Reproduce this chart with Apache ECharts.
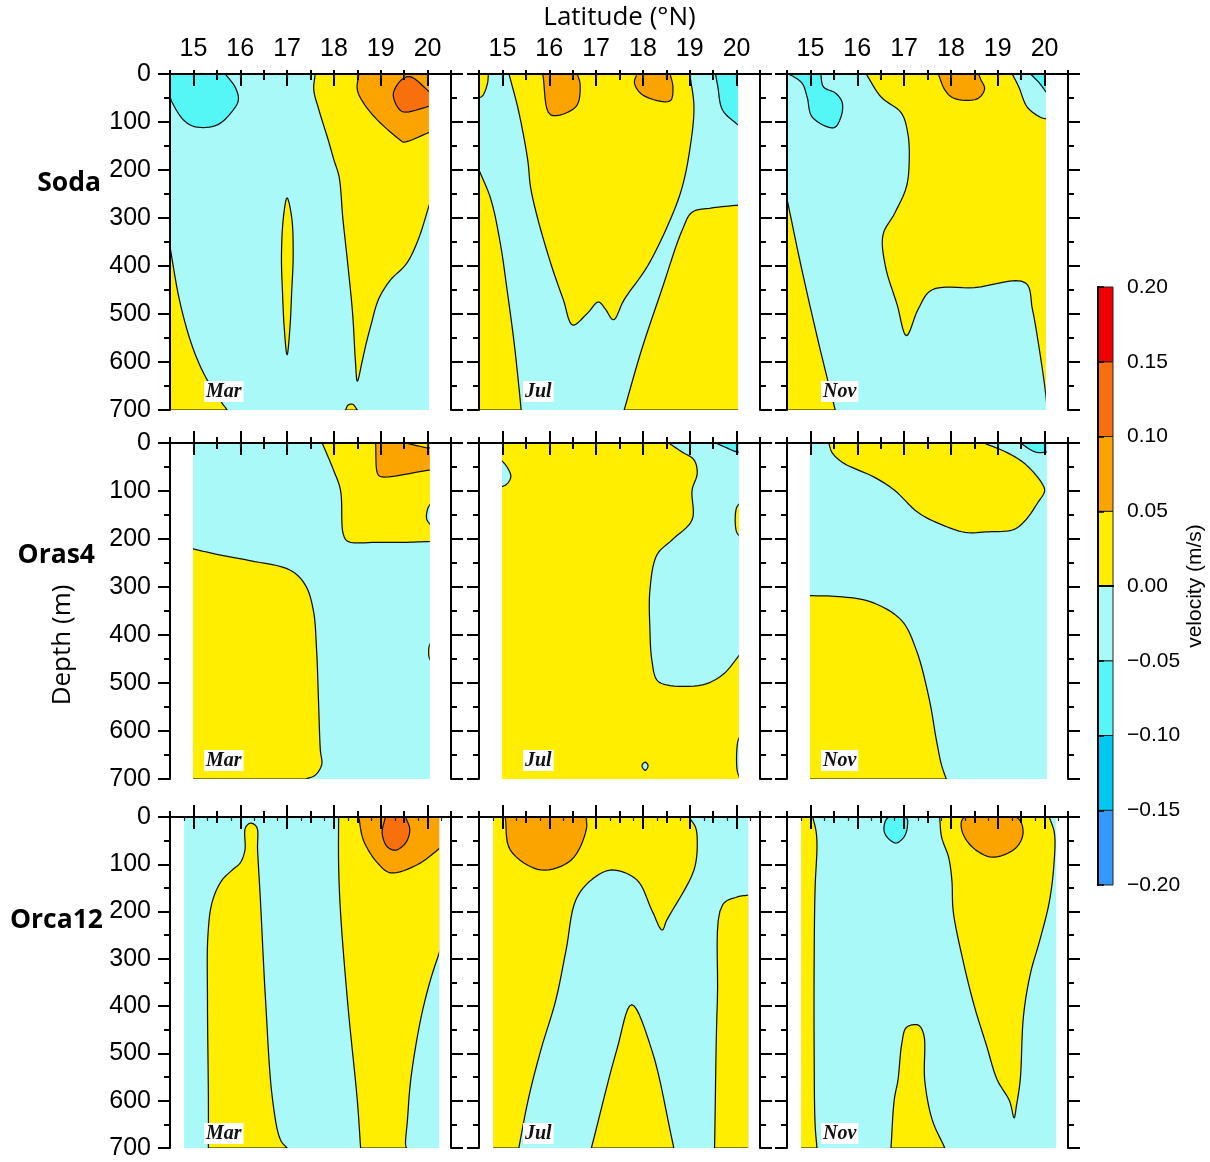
<!DOCTYPE html>
<html><head><meta charset="utf-8">
<script src="https://cdn.jsdelivr.net/npm/echarts@6.0.0/dist/echarts.min.js"></script>
<style>html,body{margin:0;padding:0;background:#fff}#c{width:1210px;height:1162px}</style>
</head><body><div id="c"></div>
<script>
// ---------------- DATA ----------------
const latTicks = [15, 16, 17, 18, 19, 20];
const depthTicks = [0, 100, 200, 300, 400, 500, 600, 700];
const levels = [-0.20, -0.15, -0.10, -0.05, 0.00, 0.05, 0.10, 0.15, 0.20];
const models = ['Soda', 'Oras4', 'Orca12'];
const months = ['Mar', 'Jul', 'Nov'];
// model grid-point markers along the surface
const soda_marks = [15, 15.5, 16, 16.5, 17, 17.5, 18, 18.5, 19, 19.5, 20];
const oras_marks = [15, 16, 17, 18, 19, 20];
const orca_marks = [14.8, 15.3, 15.8, 16.3, 16.8, 17.3, 17.8, 18.3, 18.8, 19.3, 19.8, 20.3];

// velocity classes (bin mid-values, m/s)
const V_C2 = -0.075, V_C1 = -0.025, V_Y = 0.025, V_O1 = 0.075, V_O2 = 0.125;

// contour polygons: [latitude °N, depth m]
const soda_extent = [14.5, 20.05];
const soda_mar_c2 = [[14.5,0],[15.68,0],[15.9,29],[15.96,54],[15.85,75],[15.51,106],[15.04,110],[14.79,96],[14.55,60],[14.5,48]];
const soda_mar_y1 = [[17.6,0],[20.05,0],[20.05,268],[19.8,345],[19.55,395],[19.2,430],[18.95,470],[18.8,520],[18.68,565],[18.6,600],[18.5,640],[18.46,600],[18.4,500],[18.3,400],[18.19,300],[18.11,214],[18.0,179],[17.88,138],[17.68,75],[17.57,33]];
const soda_mar_o1 = [[18.53,0],[20.05,0],[20.05,121],[19.49,142],[19.42,138],[18.93,96],[18.63,60],[18.5,33]];
const soda_mar_o2 = [[20.05,38],[19.64,6],[19.47,10],[19.27,40],[19.36,69],[19.49,79],[20.05,67]];
const soda_mar_y2 = [[17.0,258],[17.1,300],[17.13,380],[17.1,450],[17.06,530],[17.0,585],[16.94,530],[16.9,450],[16.88,380],[16.92,300]];
const soda_mar_y3 = [[14.5,360],[14.7,470],[14.95,560],[15.2,620],[15.5,670],[15.72,700],[14.5,700]];
const soda_mar_y4 = [[18.25,700],[18.3,690],[18.4,688],[18.5,700]];

const soda_jul_y1 = [[15.14,0],[19.0,0],[19.09,69],[19.0,158],[18.84,235],[18.6,300],[18.1,400],[17.6,470],[17.37,512],[17.2,490],[17.05,475],[16.8,500],[16.5,523],[16.3,470],[16.05,400],[15.75,300],[15.6,235],[15.54,179],[15.34,75]];
const soda_jul_o1 = [[15.86,0],[16.6,0],[16.66,23],[16.57,68],[16.03,85]];
const soda_jul_o2 = [[17.87,0],[18.58,0],[18.64,27],[18.58,56],[18.0,44],[17.82,19]];
const soda_jul_c2 = [[19.55,0],[20.05,0],[20.05,108],[19.7,75],[19.6,27]];
const soda_jul_y2 = [[14.5,0],[14.7,0],[14.68,20],[14.58,45],[14.5,50]];
const soda_jul_y3 = [[14.5,200],[14.75,260],[14.95,350],[15.1,450],[15.25,560],[15.35,650],[15.4,700],[14.5,700]];
const soda_jul_y4 = [[17.6,700],[17.97,575],[18.4,450],[18.84,325],[19.05,288],[19.48,279],[20.05,273],[20.05,700]];

const soda_nov_c2a = [[14.5,0],[15.22,0],[15.28,27],[15.54,40],[15.68,60],[15.65,90],[15.5,112],[15.04,90],[14.93,48],[14.82,19],[14.57,2]];
const soda_nov_y1 = [[16.19,0],[19.31,0],[19.45,27],[19.63,69],[19.91,90],[20.05,94],[20.05,690],[20.0,648],[19.89,575],[19.74,490],[19.59,435],[18.5,445],[17.59,450],[17.3,490],[17.05,545],[16.85,480],[16.6,400],[16.55,335],[16.8,290],[17.05,235],[17.11,179],[17.08,124],[16.94,81],[16.51,48]];
const soda_nov_c2b = [[19.7,0],[20.05,0],[20.05,40],[19.89,19]];
const soda_nov_o1 = [[17.73,0],[18.59,0],[18.64,12],[18.72,31],[18.56,52],[18.05,50],[17.87,33]];
const soda_nov_y2 = [[14.5,260],[14.8,400],[15.15,550],[15.4,650],[15.53,700],[14.5,700]];

const oras_extent = [14.97, 20.07];
const oras_mar_y1 = [[17.75,0],[20.07,0],[20.07,205],[19.5,207],[18.9,207],[18.3,205],[18.2,190],[18.14,98],[17.99,56]];
const oras_mar_c1 = [[20.07,125],[20.0,138],[19.98,158],[20.07,172]];
const oras_mar_o1 = [[18.89,0],[19.53,0],[20.0,10],[20.07,10],[20.07,56],[19.0,70],[18.93,63]];
const oras_mar_y2 = [[14.97,220],[15.5,232],[16.2,245],[17.07,265],[17.39,296],[17.56,348],[17.63,431],[17.67,535],[17.71,640],[17.74,670],[17.6,692],[17.4,700],[14.97,700]];
const oras_mar_y3 = [[20.07,415],[20.03,425],[20.03,445],[20.07,455]];

const oras_jul_c1a = [[14.97,35],[15.1,50],[15.18,70],[15.1,85],[14.97,92]];
const oras_jul_c1b = [[18.55,0],[20.07,0],[20.07,125],[20.0,135],[19.97,160],[20.0,185],[20.07,195],[20.07,440],[19.98,452],[19.7,483],[19.27,504],[18.51,504],[18.3,494],[18.19,452],[18.15,390],[18.15,306],[18.3,233],[18.62,202],[19.05,160],[19.05,98],[19.16,63],[19.09,35],[18.84,19]];
const oras_jul_c1c = [[20.07,610],[20.02,625],[20.01,680],[20.07,700]];
const oras_jul_c1d = [[17.98,672],[18.05,665],[18.11,672],[18.05,682]];
const oras_jul_c2 = [[19.55,0],[20.07,0],[20.07,19],[20.02,19]];

const oras_nov_y1 = [[15.39,0],[18.7,0],[19.2,20],[19.6,45],[19.95,85],[20.0,100],[19.85,125],[19.6,160],[19.35,180],[18.8,185],[18.3,186],[17.8,170],[17.3,145],[16.79,98],[16.36,71],[15.71,42],[15.47,21]];
const oras_nov_c2 = [[19.48,0],[20.07,0],[20.07,19],[19.81,19]];
const oras_nov_y2 = [[14.97,318],[15.6,320],[16.29,331],[16.94,369],[17.26,431],[17.54,535],[17.69,619],[17.8,671],[17.9,700],[14.97,700]];

const orca_extent = [14.78, 20.27];
const orca_mar_y1 = [[16.22,13],[16.35,21],[16.37,70],[16.43,175],[16.54,387],[16.69,598],[16.86,683],[17.0,700],[15.32,700],[15.32,598],[15.3,387],[15.31,250],[15.4,180],[15.6,135],[15.83,112],[16.0,97],[16.1,70],[16.11,23]];
const orca_mar_y2 = [[18.1,0],[20.27,0],[20.27,281],[20.06,345],[19.85,429],[19.64,556],[19.57,641],[19.53,693],[19.55,700],[18.57,700],[18.5,600],[18.3,400],[18.14,200],[18.1,100]];
const orca_mar_o1 = [[18.53,0],[20.27,0],[20.27,65],[20.21,70],[19.78,101],[19.21,118],[18.93,97],[18.63,49]];
const orca_mar_o2 = [[19.1,0],[19.53,0],[19.62,27],[19.53,55],[19.32,70],[19.14,63],[19.03,34]];

const orca_jul_y1 = [[14.78,0],[18.98,0],[19.12,21],[19.16,49],[19.09,112],[18.51,218],[18.41,239],[18.19,197],[17.87,133],[17.33,112],[16.9,133],[16.57,175],[16.36,281],[16.14,387],[15.82,493],[15.55,598],[15.35,700],[14.78,700]];
const orca_jul_y2 = [[16.9,700],[17.44,493],[17.76,397],[18.19,493],[18.66,700]];
const orca_jul_y3 = [[19.53,700],[19.59,387],[19.7,186],[20.02,169],[20.27,165],[20.27,700]];
const orca_jul_o1 = [[15.06,0],[16.79,0],[16.79,27],[16.47,91],[15.82,112],[15.17,70]];

const orca_nov_y1 = [[14.78,0],[15.05,0],[15.12,30],[15.14,60],[15.1,150],[15.08,300],[15.08,500],[15.1,650],[15.14,700],[14.78,700]];
const orca_nov_c2 = [[16.65,2],[16.57,27],[16.65,44],[16.83,55],[17.0,42],[17.07,21],[17.05,2]];
const orca_nov_y2 = [[17.76,0],[20.1,0],[20.21,34],[20.2,100],[20.1,180],[19.9,260],[19.7,330],[19.55,420],[19.48,556],[19.4,610],[19.35,636],[19.25,600],[18.99,556],[18.75,480],[18.5,400],[18.25,300],[18.05,200],[18.02,133],[17.95,85],[17.8,42]];
const orca_nov_o1 = [[18.27,2],[18.23,27],[18.45,63],[18.88,85],[19.38,66],[19.54,34],[19.42,2]];
const orca_nov_y3 = [[16.72,700],[16.79,598],[16.87,556],[16.95,480],[17.05,445],[17.3,440],[17.42,460],[17.44,556],[17.6,640],[17.87,700]];

// ---------------- PANELS ----------------
const panels = [
  {extent: soda_extent, marks: soda_marks, base: V_C1, regions: [[V_C2,soda_mar_c2],[V_Y,soda_mar_y1],[V_O1,soda_mar_o1],[V_O2,soda_mar_o2],[V_Y,soda_mar_y2],[V_Y,soda_mar_y3],[V_Y,soda_mar_y4]]},
  {extent: soda_extent, marks: soda_marks, base: V_C1, regions: [[V_Y,soda_jul_y1],[V_O1,soda_jul_o1],[V_O1,soda_jul_o2],[V_C2,soda_jul_c2],[V_Y,soda_jul_y2],[V_Y,soda_jul_y3],[V_Y,soda_jul_y4]]},
  {extent: soda_extent, marks: soda_marks, base: V_C1, regions: [[V_C2,soda_nov_c2a],[V_Y,soda_nov_y1],[V_C2,soda_nov_c2b],[V_O1,soda_nov_o1],[V_Y,soda_nov_y2]]},
  {extent: oras_extent, marks: oras_marks, base: V_C1, regions: [[V_Y,oras_mar_y1],[V_C1,oras_mar_c1],[V_O1,oras_mar_o1],[V_Y,oras_mar_y2],[V_Y,oras_mar_y3]]},
  {extent: oras_extent, marks: oras_marks, base: V_Y, regions: [[V_C1,oras_jul_c1a],[V_C1,oras_jul_c1b],[V_C1,oras_jul_c1c],[V_C1,oras_jul_c1d],[V_C2,oras_jul_c2]]},
  {extent: oras_extent, marks: oras_marks, base: V_C1, regions: [[V_Y,oras_nov_y1],[V_C2,oras_nov_c2],[V_Y,oras_nov_y2]]},
  {extent: orca_extent, marks: orca_marks, base: V_C1, regions: [[V_Y,orca_mar_y1],[V_Y,orca_mar_y2],[V_O1,orca_mar_o1],[V_O2,orca_mar_o2]]},
  {extent: orca_extent, marks: orca_marks, base: V_C1, regions: [[V_Y,orca_jul_y1],[V_Y,orca_jul_y2],[V_Y,orca_jul_y3],[V_O1,orca_jul_o1]]},
  {extent: orca_extent, marks: orca_marks, base: V_C1, regions: [[V_Y,orca_nov_y1],[V_C2,orca_nov_c2],[V_Y,orca_nov_y2],[V_O1,orca_nov_o1],[V_Y,orca_nov_y3]]}
];

// ---------------- STYLE / LAYOUT ----------------
const palette = ['#3399ff', '#00c8f2', '#55f6f6', '#aaf9f9', '#ffee00', '#fba400', '#f8700e', '#f20000'];
function colorOf(v) {
  for (let i = 0; i < levels.length - 1; i++) if (v >= levels[i] && v < levels[i + 1]) return palette[i];
  return palette[palette.length - 1];
}
const colLeft = [170, 479, 787], panelW = 281;
const rowTop = [74, 443, 817], rowH = [336, 336, 331];
const LAT_MIN = 14.5, LAT_MAX = 20.5, DEP_MIN = 0, DEP_MAX = 700;
const tickFont = '"Liberation Sans", Arial, Helvetica, sans-serif';
const titleFont = '"Open Sans", "Liberation Sans", sans-serif';
const AX = {color: '#000', width: 2};
const NAX = 5; // x axes per panel
const NAY = 4; // y axes per panel

// centripetal Catmull-Rom smoothing of a contour ring (pixel space); segments lying on the data boundary stay straight
function smoothRing(px, sides) {
  const n = px.length, out = [];
  const d = (a, b) => Math.max(Math.sqrt(Math.hypot(b[0] - a[0], b[1] - a[1])), 1e-4);
  for (let i = 0; i < n; i++) {
    const j = (i + 1) % n;
    out.push(px[i]);
    if (sides[i].some(s => sides[j].indexOf(s) >= 0)) continue;
    const p1 = px[i], p2 = px[j];
    const p0 = sides[i].length ? [2 * p1[0] - p2[0], 2 * p1[1] - p2[1]] : px[(i - 1 + n) % n];
    const p3 = sides[j].length ? [2 * p2[0] - p1[0], 2 * p2[1] - p1[1]] : px[(j + 1) % n];
    const t0 = 0, t1 = t0 + d(p0, p1), t2 = t1 + d(p1, p2), t3 = t2 + d(p2, p3);
    const lerp = (a, b, ta, tb, t) => [((tb - t) * a[0] + (t - ta) * b[0]) / (tb - ta), ((tb - t) * a[1] + (t - ta) * b[1]) / (tb - ta)];
    const steps = 8;
    for (let k = 1; k < steps; k++) {
      const t = t1 + (t2 - t1) * k / steps;
      const A1 = lerp(p0, p1, t0, t1, t), A2 = lerp(p1, p2, t1, t2, t), A3 = lerp(p2, p3, t2, t3, t);
      const B1 = lerp(A1, A2, t0, t2, t), B2 = lerp(A2, A3, t1, t3, t);
      out.push(lerp(B1, B2, t1, t2, t));
    }
  }
  return out;
}

const grids = [], xAxes = [], yAxes = [], series = [], graphics = [];

panels.forEach((p, gi) => {
  const r = Math.floor(gi / 3), c = gi % 3;
  grids.push({left: colLeft[c], top: rowTop[r], width: panelW, height: rowH[r], containLabel: false, outerBoundsMode: 'none'});
  const xBase = {type: 'value', gridIndex: gi, min: LAT_MIN, max: LAT_MAX, z: 10, splitLine: {show: false}, axisLabel: {show: false}};
  xAxes.push(Object.assign({}, xBase, {position: 'bottom', interval: 0.5, axisLine: {show: true, lineStyle: AX}, axisTick: {show: true, inside: false, length: 6, lineStyle: AX}}));
  xAxes.push(Object.assign({}, xBase, {position: 'bottom', axisLine: {show: false}, axisTick: {show: true, inside: false, length: 12, customValues: latTicks, lineStyle: AX}}));
  xAxes.push(Object.assign({}, xBase, {position: 'top', interval: 0.5, axisLine: {show: true, lineStyle: AX}, axisTick: {show: true, inside: false, length: r === 0 ? 4 : 6, lineStyle: AX}}));
  const topMajor = Object.assign({}, xBase, {position: 'top', axisLine: {show: false}, axisTick: {show: true, inside: false, length: r === 0 ? 4 : 12, customValues: latTicks, lineStyle: AX},
    axisLabel: {show: r === 0, customValues: latTicks, fontFamily: tickFont, fontSize: 25, color: '#000', margin: 12}});
  if (r === 0 && c === 1) Object.assign(topMajor, {name: 'Latitude (°N)', nameLocation: 'middle', nameGap: 43, nameTextStyle: {fontFamily: titleFont, fontSize: 26, color: '#000'}});
  xAxes.push(topMajor);
  xAxes.push(Object.assign({}, xBase, {position: 'top', axisLine: {show: false}, axisTick: {show: true, inside: true, length: 4, customValues: p.marks, lineStyle: {color: '#222', width: 1.2}}}));

  const yBase = {type: 'value', gridIndex: gi, min: DEP_MIN, max: DEP_MAX, inverse: true, z: 10, splitLine: {show: false}, axisLabel: {show: false}};
  yAxes.push(Object.assign({}, yBase, {position: 'left', interval: 50, axisLine: {show: true, lineStyle: AX}, axisTick: {show: true, inside: false, length: 6, lineStyle: AX}}));
  yAxes.push(Object.assign({}, yBase, {position: 'left', axisLine: {show: false}, axisTick: {show: true, inside: false, length: 12, customValues: depthTicks, lineStyle: AX},
    axisLabel: {show: c === 0, customValues: depthTicks, fontFamily: tickFont, fontSize: 25, color: '#000', margin: 19}}));
  yAxes.push(Object.assign({}, yBase, {position: 'right', interval: 50, axisLine: {show: true, lineStyle: AX}, axisTick: {show: true, inside: false, length: 6, lineStyle: AX}}));
  yAxes.push(Object.assign({}, yBase, {position: 'right', axisLine: {show: false}, axisTick: {show: true, inside: false, length: 12, customValues: depthTicks, lineStyle: AX}}));

  // shapes: base fill, contour regions, white masks outside data extent
  const ext = p.extent;
  const sidesOf = q => {
    const s = [];
    if (Math.abs(q[0] - ext[0]) < 1e-6) s.push('L');
    if (Math.abs(q[0] - ext[1]) < 1e-6) s.push('R');
    if (q[1] <= DEP_MIN) s.push('T');
    if (q[1] >= DEP_MAX) s.push('B');
    return s;
  };
  const items = [{kind: 'rect', x0: ext[0], x1: ext[1], fill: colorOf(p.base), pad: 0}];
  p.regions.forEach(([v, pts]) => items.push({kind: 'poly', v: v, pts: pts, sides: pts.map(sidesOf)}));
  items.push({kind: 'rect', x0: LAT_MIN, x1: ext[0], fill: '#fff', pad: 1});
  items.push({kind: 'rect', x0: ext[1], x1: LAT_MAX, fill: '#fff', pad: 1});
  series.push({
    type: 'custom', coordinateSystem: 'cartesian2d', xAxisIndex: gi * NAX, yAxisIndex: gi * NAY, clip: true, silent: true,
    data: items.map((_, i) => [i]),
    renderItem: function (params, api) {
      const it = items[params.dataIndex];
      if (it.kind === 'rect') {
        const a = api.coord([it.x0, DEP_MIN]), b = api.coord([it.x1, DEP_MAX]);
        const x0 = Math.min(a[0], b[0]) - it.pad, w = Math.abs(b[0] - a[0]) + 2 * it.pad;
        return {type: 'rect', z2: params.dataIndex, shape: {x: x0, y: Math.min(a[1], b[1]) - 2, width: w, height: Math.abs(b[1] - a[1]) + 4}, style: {fill: it.fill}};
      }
      const pts = smoothRing(it.pts.map(q => api.coord(q)), it.sides);
      return {type: 'polygon', z2: params.dataIndex, shape: {points: pts}, style: {fill: colorOf(it.v), stroke: '#111', lineWidth: 1.25, lineJoin: 'round'}};
    }
  });

  // month label
  const mOff = [34, 44, 34][c];
  graphics.push({type: 'text', left: colLeft[c] + mOff, top: rowTop[r] + rowH[r] - [29, 29, 25][r], z: 100,
    style: {text: months[c], font: 'italic bold 20px "Liberation Serif", "Times New Roman", serif', fill: '#111', backgroundColor: '#fff', padding: [1, 2, 0, 2]}});
});

// row labels
const rowLabelPos = [[101, 183], [95, 555], [103, 920]];
models.forEach((m, r) => {
  graphics.push({type: 'text', x: rowLabelPos[r][0], y: rowLabelPos[r][1], z: 100,
    style: {text: m, font: 'bold 26.5px ' + titleFont, fill: '#000', textAlign: 'right', textVerticalAlign: 'middle'}});
});
// depth axis title
graphics.push({type: 'text', x: 63, y: 645, rotation: Math.PI / 2, z: 100,
  style: {text: 'Depth (m)', font: '26px ' + titleFont, fill: '#000', textAlign: 'center', textVerticalAlign: 'middle'}});

// colour bar
const cbIdx = panels.length;
grids.push({left: 1098, top: 287, width: 15, height: 598, containLabel: false, outerBoundsMode: 'none'});
xAxes.push({type: 'value', gridIndex: cbIdx, min: 0, max: 1, position: 'bottom', z: 10, axisLine: {show: true, lineStyle: AX}, axisTick: {show: false}, axisLabel: {show: false}, splitLine: {show: false}});
xAxes.push({type: 'value', gridIndex: cbIdx, min: 0, max: 1, position: 'top', z: 10, axisLine: {show: true, lineStyle: AX}, axisTick: {show: false}, axisLabel: {show: false}, splitLine: {show: false}});
yAxes.push({type: 'value', gridIndex: cbIdx, min: -0.2, max: 0.2, interval: 0.05, position: 'left', z: 10, axisLine: {show: true, lineStyle: AX}, axisTick: {show: false}, axisLabel: {show: false}, splitLine: {show: false}});
yAxes.push({type: 'value', gridIndex: cbIdx, min: -0.2, max: 0.2, interval: 0.05, position: 'right', z: 10,
  axisLine: {show: true, lineStyle: AX}, axisTick: {show: true, inside: false, length: 6, lineStyle: {color: '#000', width: 1.5}},
  axisLabel: {fontFamily: tickFont, fontSize: 21, color: '#000', margin: 14, formatter: v => (v < -1e-9 ? '\u2212' : '') + Math.abs(v).toFixed(2)},
  splitLine: {show: false},
  name: 'velocity (m/s)', nameLocation: 'middle', nameGap: 72, nameRotate: 90, nameTextStyle: {fontFamily: tickFont, fontSize: 21, color: '#000'}});
series.push({
  type: 'custom', coordinateSystem: 'cartesian2d', xAxisIndex: panels.length * NAX, yAxisIndex: panels.length * NAY + 1, silent: true,
  data: palette.map((_, i) => [i]),
  renderItem: function (params, api) {
    const i = params.dataIndex;
    const a = api.coord([0, levels[i + 1]]), b = api.coord([1, levels[i]]);
    return {type: 'rect', shape: {x: a[0], y: a[1], width: b[0] - a[0], height: b[1] - a[1]}, style: {fill: palette[i], stroke: '#222', lineWidth: 1}};
  }
});

const chart = echarts.init(document.getElementById('c'), null, {renderer: 'canvas'});
chart.setOption({animation: false, backgroundColor: '#fff', grid: grids, xAxis: xAxes, yAxis: yAxes, series: series, graphic: graphics});
</script></body></html>
